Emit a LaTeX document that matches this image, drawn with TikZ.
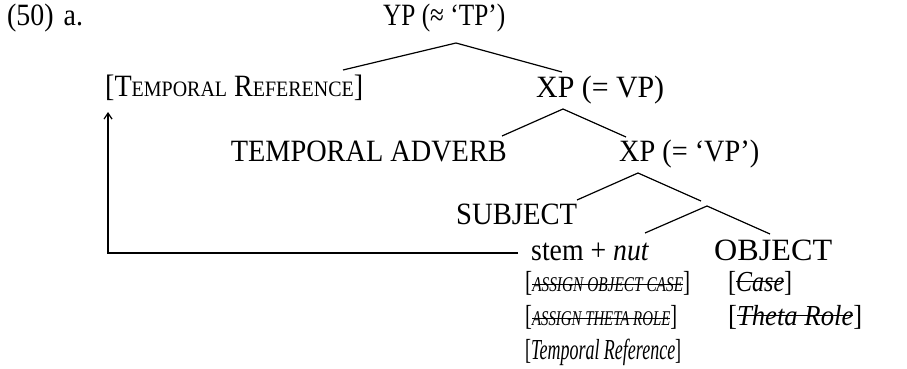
\documentclass[tikz,border=0pt]{standalone}
\usepackage{fontspec}
\usepackage{graphicx}
\setmainfont{Liberation Serif}[FakeStretch=0.9]
\usetikzlibrary{arrows.meta}
\newcommand\bigfnt{\fontsize{31}{36}\selectfont}
\newcommand\featfnt{\fontsize{29}{34}\selectfont}
\newcommand\scfnt{\fontsize{22}{26}\selectfont}
\newcommand\fscfnt{\fontsize{21}{25}\selectfont}
\newsavebox\strkbox
\newcommand\strk[1]{\sbox\strkbox{#1}\rlap{\rule[0.3em]{\wd\strkbox}{1.1pt}}\usebox\strkbox}
\newcommand\fitw[2]{\resizebox{#1}{\height}{#2}}
\begin{document}
\begin{tikzpicture}[x=1pt,y=1pt,
  lbl/.style={inner sep=0pt, anchor=base west, font=\bigfnt},
  lble/.style={inner sep=0pt, anchor=base east, font=\bigfnt},
  feat/.style={inner sep=0pt, anchor=base west, font=\featfnt},
  br/.style={line width=1.2pt},
  conn/.style={line width=1.2pt, -{Straight Barb[length=6pt,width=8pt]}}]
\useasboundingbox (0,0) rectangle (907,-369);
% labels
\node[lbl] (ex) at (7,-26) {(50)\hspace{10pt}a.};
\node[lbl] (yp) at (383,-26) {\fitw{122pt}{YP (≈ ‘TP’)}};
\node[lbl] (tr) at (105,-96) {\fitw{258pt}{[T{\scfnt EMPORAL} R{\scfnt EFERENCE}]}};
\node[lbl] (xp1) at (536,-97) {\fitw{128pt}{XP (= VP)}};
\node[lble] (adv) at (507,-161) {\fitw{276pt}{TEMPORAL ADVERB}};
\node[lbl] (xp2) at (619,-161) {\fitw{140pt}{XP (= ‘VP’)}};
\node[lbl] (subj) at (456,-224) {\fitw{121pt}{SUBJECT}};
\node[lbl] (stem) at (531,-260) {\fitw{118pt}{stem + \textit{nut}}};
\node[lbl] (obj) at (714,-260) {\fitw{118pt}{OBJECT}};
% features
\node[feat] (f1) at (525,-291) {\fitw{165pt}{[{\itshape\fscfnt\strk{ASSIGN OBJECT CASE}}]}};
\node[feat] (f2) at (525,-325) {\fitw{152pt}{[{\itshape\fscfnt\strk{ASSIGN THETA ROLE}}]}};
\node[feat] (f3) at (525,-359) {\fitw{156pt}{[\textit{Temporal Reference}]}};
\node[feat] (g1) at (728,-291) {\fitw{64pt}{[{\itshape\strk{Case}}]}};
\node[feat] (g2) at (728,-325) {\fitw{134pt}{[{\itshape\strk{Theta Role}}]}};
% tree coordinates
\coordinate (a0) at (456,-43);
\coordinate (a0l) at (343,-70);
\coordinate (a0r) at (562,-72);
\coordinate (a1) at (563,-109);
\coordinate (a1l) at (502,-136);
\coordinate (a1r) at (626,-137);
\coordinate (a2) at (638,-173);
\coordinate (a2l) at (577,-200);
\coordinate (a2r) at (701,-201);
\coordinate (a3) at (707,-206);
\coordinate (a3l) at (645,-233);
\coordinate (a3r) at (770,-234);
\draw[br] (a0l) -- (a0) -- (a0r);
\draw[br] (a1l) -- (a1) -- (a1r);
\draw[br] (a2l) -- (a2) -- (a2r);
\draw[br] (a3l) -- (a3) -- (a3r);
% arrow
\coordinate (lineend) at (518,-253);
\coordinate (tip) at (108,-112);
\draw[conn] (lineend) -| (tip);
\end{tikzpicture}
\end{document}
